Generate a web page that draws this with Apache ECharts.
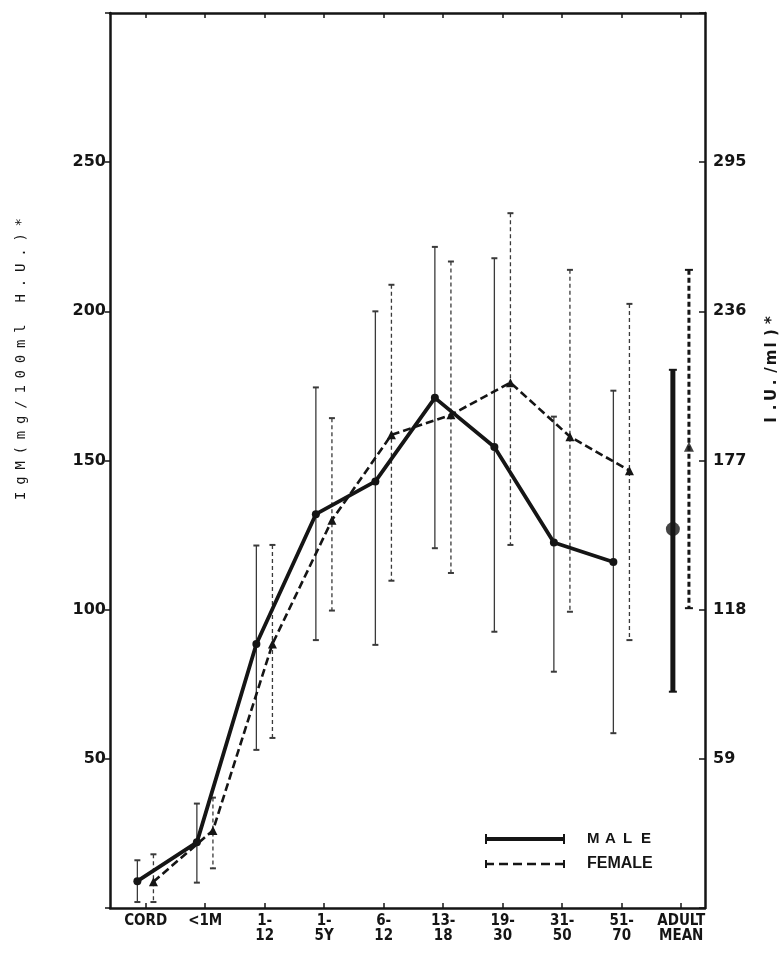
<!DOCTYPE html>
<html><head><meta charset="utf-8">
<script src="https://cdn.jsdelivr.net/npm/echarts@6/dist/echarts.min.js"></script>
<style>html,body{margin:0;padding:0;background:#fff}#c{width:783px;height:959px}</style>
</head><body><div id="c"></div>
<script>
// ---- data ----
const categories = ['CORD', '<1M', '1-\n12', '1-\n5Y', '6-\n12', '13-\n18', '19-\n30', '31-\n50', '51-\n70', 'ADULT\nMEAN'];
const leftTickLabels = [50, 100, 150, 200, 250];
const rightTickLabels = [59, 118, 177, 236, 295];
const maleMean   = [9,   22,   88.5, 132,   143,   171,   154.5, 122.5, 116];
const maleLow    = [2,   8.5,  53,   89.8,  88.2,  120.6, 92.6,  79.2,  58.6];
const maleHigh   = [16,  35,   121.5,174.5, 200,   221.6, 217.8, 164.7, 173.4];
const femaleMean = [8.8, 26,   88.5, 130,   158.6, 165.3, 176.1, 158,   146.6];
const femaleLow  = [2,   13.3, 57,   99.7,  109.7, 112.3, 121.7, 99.3,  89.8];
const femaleHigh = [18,  37,   121.7,164.2, 208.9, 216.7, 232.9, 213.9, 202.5];
const adultMean  = [127, 154.6];   // male, female
const adultLow   = [72.5, 100.5];
const adultHigh  = [180.4, 213.9];

// ---- layout / style constants ----
const MALE_OFF = -0.14, FEMALE_OFF = 0.13;
const ADULT_IDX = 9;
const INK = '#151515';

function spaced(text) {
  let s = '';
  for (const ch of text) s += '{a|' + ch + '}';
  return s;
}

function errRender(width, dash, capW, capLW, color) {
  return function (params, api) {
    const x = api.value(0), lo = api.value(1), hi = api.value(2);
    const p1 = api.coord([x, hi]), p2 = api.coord([x, lo]);
    return {
      type: 'group', children: [
        { type: 'line', shape: { x1: p1[0], y1: p1[1], x2: p2[0], y2: p2[1] },
          style: { stroke: color, lineWidth: width, lineDash: dash } },
        { type: 'line', shape: { x1: p1[0] - capW, y1: p1[1], x2: p1[0] + capW, y2: p1[1] },
          style: { stroke: color, lineWidth: capLW } },
        { type: 'line', shape: { x1: p2[0] - capW, y1: p2[1], x2: p2[0] + capW, y2: p2[1] },
          style: { stroke: color, lineWidth: capLW } }
      ]
    };
  };
}

const maleErr = maleMean.map((v, i) => [i + MALE_OFF, maleLow[i], maleHigh[i]]);
const femaleErr = femaleMean.map((v, i) => [i + FEMALE_OFF, femaleLow[i], femaleHigh[i]]);
const maleLine = maleMean.map((v, i) => [i + MALE_OFF, v]);
const femaleLine = femaleMean.map((v, i) => [i + FEMALE_OFF, v]);

const tickVals = categories.map((c, i) => i);
const chart = echarts.init(document.getElementById('c'), null, { renderer: 'canvas' });

const axisFont = { fontFamily: 'DejaVu Sans', fontWeight: 'bold', fontSize: 16, color: INK };

chart.setOption({
  animation: false,
  backgroundColor: '#fff',
  grid: { left: 110, right: 78, top: 13, bottom: 51, containLabel: false },
  xAxis: [
    { type: 'value', min: -0.6, max: 9.4, position: 'bottom',
      axisLine: { show: true, onZero: false, lineStyle: { color: INK, width: 2.5 } },
      axisTick: { show: true, inside: true, length: 5, customValues: tickVals, lineStyle: { color: INK, width: 1.5 } },
      axisLabel: { show: true, customValues: tickVals, margin: 6,
        formatter: v => categories[Math.round(v)],
        fontFamily: "'Liberation Sans Narrow', 'DejaVu Sans Condensed', sans-serif",
        fontWeight: 'bold', fontSize: 15, lineHeight: 15, color: INK },
      splitLine: { show: false } },
    { type: 'value', min: -0.6, max: 9.4, position: 'top',
      axisLine: { show: true, onZero: false, lineStyle: { color: INK, width: 2.5 } },
      axisTick: { show: true, inside: true, length: 5, customValues: tickVals, lineStyle: { color: INK, width: 1.5 } },
      axisLabel: { show: false }, splitLine: { show: false } }
  ],
  yAxis: [
    { type: 'value', min: 0, max: 300, interval: 50, position: 'left',
      axisLine: { show: true, onZero: false, lineStyle: { color: INK, width: 2.5 } },
      axisTick: { show: true, length: 5, lineStyle: { color: INK, width: 1.5 } },
      axisLabel: Object.assign({ margin: 4,
        formatter: v => leftTickLabels.indexOf(v) >= 0 ? String(v) : '' }, axisFont),
      splitLine: { show: false } },
    { type: 'value', min: 0, max: 354, interval: 59, position: 'right',
      axisLine: { show: true, onZero: false, lineStyle: { color: INK, width: 2.5 } },
      axisTick: { show: true, inside: true, length: 6, lineStyle: { color: INK, width: 1.5 } },
      axisLabel: Object.assign({ margin: 8,
        formatter: v => rightTickLabels.indexOf(v) >= 0 ? String(v) : '' }, axisFont),
      splitLine: { show: false } }
  ],
  series: [
    { name: 'MALE err', type: 'custom', xAxisIndex: 0, yAxisIndex: 0, data: maleErr,
      encode: { x: 0, y: [1, 2] }, renderItem: errRender(1.3, null, 3, 2, '#3a3a3a'), z: 2 },
    { name: 'FEMALE err', type: 'custom', xAxisIndex: 0, yAxisIndex: 0, data: femaleErr,
      encode: { x: 0, y: [1, 2] }, renderItem: errRender(1.3, [4, 3], 3, 2, '#3a3a3a'), z: 2 },
    { name: 'MALE', type: 'line', xAxisIndex: 0, yAxisIndex: 0, data: maleLine,
      symbol: 'circle', symbolSize: 8, itemStyle: { color: INK },
      lineStyle: { color: INK, width: 3.8 }, z: 4 },
    { name: 'FEMALE', type: 'line', xAxisIndex: 0, yAxisIndex: 0, data: femaleLine,
      symbol: 'triangle', symbolSize: 9, itemStyle: { color: INK },
      lineStyle: { color: INK, width: 2.6, type: [8, 4] }, z: 3 },
    { name: 'MALE adult', type: 'custom', xAxisIndex: 0, yAxisIndex: 0,
      data: [[ADULT_IDX + MALE_OFF, adultLow[0], adultHigh[0]]],
      encode: { x: 0, y: [1, 2] }, renderItem: errRender(5, null, 4, 2, INK), z: 3 },
    { name: 'FEMALE adult', type: 'custom', xAxisIndex: 0, yAxisIndex: 0,
      data: [[ADULT_IDX + FEMALE_OFF, adultLow[1], adultHigh[1]]],
      encode: { x: 0, y: [1, 2] }, renderItem: errRender(3, [5, 3], 4, 2, INK), z: 3 },
    { name: 'MALE adult mean', type: 'scatter', xAxisIndex: 0, yAxisIndex: 0,
      data: [[ADULT_IDX + MALE_OFF, adultMean[0]]], symbol: 'circle', symbolSize: 14,
      itemStyle: { color: INK }, z: 5 },
    { name: 'FEMALE adult mean', type: 'scatter', xAxisIndex: 0, yAxisIndex: 0,
      data: [[ADULT_IDX + FEMALE_OFF, adultMean[1]]], symbol: 'triangle', symbolSize: 10,
      itemStyle: { color: INK }, z: 5 }
  ],
  graphic: [
    // left axis title
    { type: 'text', x: 21, y: 359, rotation: Math.PI / 2,
      style: { text: spaced('IgM(mg/100ml H.U.)*'), align: 'center', verticalAlign: 'middle',
        rich: { a: { width: 15.2, align: 'center', fontFamily: 'DejaVu Sans Mono', fontSize: 14, fill: INK } } } },
    // right axis title
    { type: 'text', x: 772, y: 370, rotation: Math.PI / 2,
      style: { text: spaced('I.U./ml)*'), align: 'center', verticalAlign: 'middle',
        rich: { a: { width: 12.5, align: 'center', fontFamily: 'DejaVu Sans', fontWeight: 'bold', fontSize: 15, fill: INK } } } },
    // legend
    { type: 'line', shape: { x1: 485, y1: 839, x2: 565, y2: 839 }, style: { stroke: INK, lineWidth: 4 } },
    { type: 'line', shape: { x1: 486, y1: 834, x2: 486, y2: 844 }, style: { stroke: INK, lineWidth: 2 } },
    { type: 'line', shape: { x1: 564, y1: 834, x2: 564, y2: 844 }, style: { stroke: INK, lineWidth: 2 } },
    { type: 'line', shape: { x1: 485, y1: 864, x2: 565, y2: 864 }, style: { stroke: INK, lineWidth: 2.6, lineDash: [9, 5] } },
    { type: 'line', shape: { x1: 486, y1: 860, x2: 486, y2: 868 }, style: { stroke: INK, lineWidth: 2 } },
    { type: 'line', shape: { x1: 564, y1: 860, x2: 564, y2: 868 }, style: { stroke: INK, lineWidth: 2 } },
    { type: 'text', x: 587, y: 839,
      style: { text: spaced('MALE'), align: 'left', verticalAlign: 'middle',
        rich: { a: { width: 18, align: 'left', fontFamily: 'Liberation Sans', fontWeight: 'bold', fontSize: 15, fill: INK } } } },
    { type: 'text', x: 587, y: 864,
      style: { text: 'FEMALE', align: 'left', verticalAlign: 'middle',
        fontFamily: 'Liberation Sans', fontWeight: 'bold', fontSize: 16, fill: INK } }
  ]
});
</script>
</body></html>
